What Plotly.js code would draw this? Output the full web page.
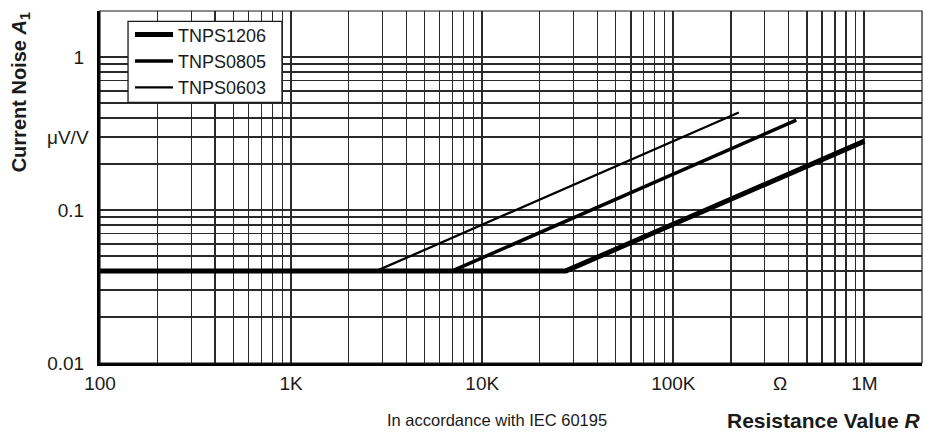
<!DOCTYPE html>
<html>
<head>
<meta charset="utf-8">
<script src="https://cdn.plot.ly/plotly-3.0.1.min.js"></script>
<style>html,body{margin:0;padding:0;background:#fff}#chart{width:925px;height:435px}</style>
</head>
<body>
<div id="chart"></div>
<script>
// Data
const seriesNames = ['TNPS1206', 'TNPS0805', 'TNPS0603'];
const r1206 = [100, 27400, 1000000];
const a1206 = [0.04, 0.04, 0.282];
const r0805 = [100, 6970, 440000];
const a0805 = [0.04, 0.04, 0.387];
const r0603 = [100, 2800, 220000];
const a0603 = [0.04, 0.04, 0.434];
const lineWidths = [5, 3.5, 2.3];

const xTickVals = [100, 1000, 10000, 100000, 1000000];
const xTickText = ['100', '1K', '10K', '100K', '1M'];
const yTickVals = [0.01, 0.1, 1];
const yTickText = ['0.01', '0.1', '1'];
const xUnitPos = 360000;   // "Ω"
const yUnitPos = 0.3;      // "μV/V"

// gridline positions: every 1..9 multiple within each decade
function gridVals(lo, hi) {
  const out = [];
  for (let e = lo; e < hi; e++) for (let d = 1; d <= 9; d++) out.push(d * Math.pow(10, e));
  return out;
}
const xGrid = gridVals(2, 7).filter(v => v <= 2000000);
const yGrid = gridVals(-2, 1).filter(v => v <= 2);

const font = 'Liberation Sans, Arial, Helvetica, sans-serif';
const ink = '#1a1a1a';
const gridCol = '#2a2a2a';

const xs = [r1206, r0805, r0603];
const ys = [a1206, a0805, a0603];
const traces = seriesNames.map((n, i) => ({
  x: xs[i], y: ys[i], name: n, type: 'scatter', mode: 'lines',
  line: {color: '#000', width: lineWidths[i]}
}));

const layout = {
  width: 925, height: 435,
  margin: {l: 100, r: 3, t: 11, b: 72, pad: 0},
  paper_bgcolor: '#fff', plot_bgcolor: '#fff',
  font: {family: font, color: ink, size: 19},
  showlegend: true,
  legend: {
    x: 0.0365, y: 0.9846, xanchor: 'left', yanchor: 'top',
    bgcolor: 'rgba(0,0,0,0)', borderwidth: 0,
    itemwidth: 38,
    font: {family: font, size: 18, color: ink},
    tracegroupgap: 0
  },
  xaxis: {
    type: 'log', range: [2, Math.log10(2000000)],
    tickmode: 'array', tickvals: xTickVals, ticktext: xTickText,
    ticks: '', ticklabelstandoff: 1,
    showgrid: true, gridcolor: gridCol, gridwidth: 2,
    minor: {tickmode: 'array', tickvals: xGrid, showgrid: true, gridcolor: gridCol, gridwidth: 1.3, ticks: ''},
    showline: true, linecolor: '#000', linewidth: 3,
    zeroline: false, tickfont: {size: 19, color: ink}
  },
  yaxis: {
    type: 'log', range: [-2, Math.log10(2)],
    tickmode: 'array', tickvals: yTickVals, ticktext: yTickText,
    ticks: '', ticklabelstandoff: 9,
    showgrid: true, gridcolor: gridCol, gridwidth: 2,
    minor: {tickmode: 'array', tickvals: yGrid, showgrid: true, gridcolor: gridCol, gridwidth: 1.3, ticks: ''},
    showline: true, linecolor: '#000', linewidth: 3,
    zeroline: false, tickfont: {size: 19, color: ink}
  },
  shapes: [
    {type: 'rect', xref: 'paper', yref: 'paper', x0: 0, x1: 1, y0: 0, y1: 1,
     line: {color: ink, width: 1.2}, layer: 'above'},
    {type: 'rect', xref: 'paper', yref: 'paper', x0: 0.0341, x1: 0.2214, y0: 0.7406, y1: 0.9707,
     fillcolor: '#fff', line: {color: ink, width: 1.3}, layer: 'above'}
  ],
  annotations: [
    {x: Math.log10(xUnitPos), xref: 'x', y: 0, yref: 'paper', yanchor: 'top', yshift: -8,
     text: 'Ω', showarrow: false, font: {size: 19, color: ink}},
    {x: 0, xref: 'paper', y: Math.log10(yUnitPos), yref: 'y', xanchor: 'right', xshift: -9,
     text: 'μV/V', showarrow: false, font: {size: 19, color: ink}},
    {x: -0.0973, xref: 'paper', y: 0.769, yref: 'paper', xanchor: 'center', yanchor: 'middle',
     textangle: -90, showarrow: false,
     text: '<b>Current Noise <i>A</i><sub>1</sub></b>', font: {size: 20, color: ink}},
    {x: 0.3467, xref: 'paper', y: -0.163, yref: 'paper', xanchor: 'left', yanchor: 'middle',
     showarrow: false, text: 'In accordance with IEC 60195', font: {size: 16.5, color: ink}},
    {x: 1, xref: 'paper', y: -0.163, yref: 'paper', xanchor: 'right', yanchor: 'middle',
     showarrow: false, text: '<b>Resistance Value <i>R</i></b>', font: {size: 21, color: ink}}
  ]
};

Plotly.newPlot('chart', traces, layout, {staticPlot: true, displayModeBar: false});
</script>
</body>
</html>
